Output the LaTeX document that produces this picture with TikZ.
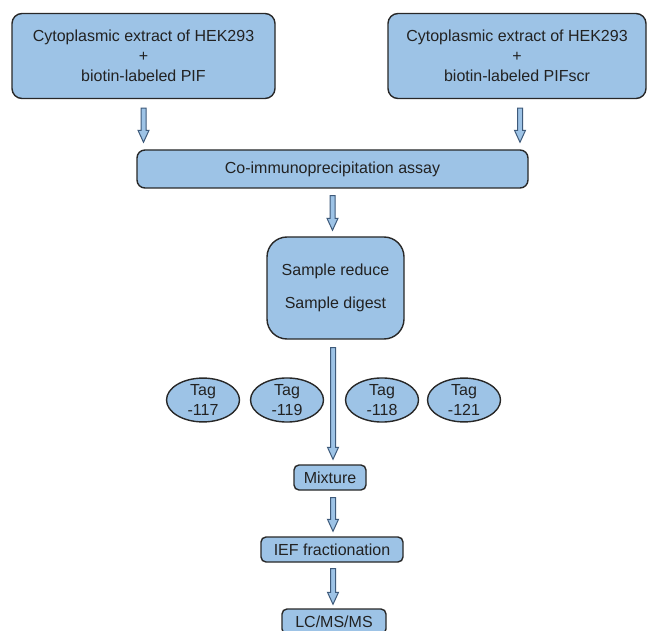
\documentclass[tikz,border=0pt]{standalone}
\usepackage{fontspec}
\setmainfont{Liberation Sans}
\usetikzlibrary{calc,shapes.geometric}
\definecolor{boxfill}{RGB}{157,195,230}
\definecolor{boxline}{RGB}{40,40,40}
\definecolor{arrline}{RGB}{62,90,122}
\definecolor{txt}{RGB}{34,34,34}
\tikzset{
  box/.style={draw=boxline, fill=boxfill, line width=1.4pt, rounded corners=#1,
    text=txt, align=center, inner sep=0pt, font=\fontsize{16}{20}\selectfont},
  box/.default=8pt,
  tag/.style={draw=boxline, fill=boxfill, line width=1.4pt, ellipse,
    minimum width=73pt, minimum height=43pt, inner sep=0pt, text=txt, align=center,
    font=\fontsize{16}{20}\selectfont},
  blockarr/.style={draw=arrline, fill=boxfill, line width=1pt, line join=miter}
}
\newcommand\blkarrow[2]{%
  \path[blockarr] let \p1=(#1), \p2=(#2) in
    (\x1-2.5pt,\y1) -- (\x1-2.5pt,\y2+12pt) -- (\x1-5.5pt,\y2+12pt) -- (\x1,\y2)
    -- (\x1+5.5pt,\y2+12pt) -- (\x1+2.5pt,\y2+12pt) -- (\x1+2.5pt,\y1) -- cycle;}
\begin{document}
\begin{tikzpicture}[x=1pt,y=-1pt]
\clip (0,0) rectangle (648,631);
\fill[white] (0,0) rectangle (648,631);
\node[box=10pt, minimum width=263pt, minimum height=85pt] (b1) at (143.5,56)
  {Cytoplasmic extract of HEK293\\+\\biotin-labeled PIF};
\node[box=10pt, minimum width=258pt, minimum height=85pt] (b2) at (517,56)
  {Cytoplasmic extract of HEK293\\+\\biotin-labeled PIFscr};
\node[box=8pt, minimum width=391pt, minimum height=38pt] (coip) at (332.5,169)
  {Co-immunoprecipitation assay};
\node[box=20pt, minimum width=137pt, minimum height=102pt] (samp) at (335.5,288)
  {Sample reduce\\[13pt]Sample digest};
\node[tag] (t117) at (203,400) {Tag\\-117};
\node[tag] (t119) at (287,400) {Tag\\-119};
\node[tag] (t118) at (382,400) {Tag\\-118};
\node[tag] (t121) at (464,400) {Tag\\-121};
\node[box=5pt, minimum width=72pt, minimum height=25pt] (mix) at (330,477.5) {Mixture};
\node[box=5pt, minimum width=142pt, minimum height=25pt] (ief) at (332,549.5) {IEF fractionation};
\node[box=5pt, minimum width=104pt, minimum height=25pt] (lcms) at (334,621.5) {LC/MS/MS};
\blkarrow{[yshift=-9pt]b1.south}{[yshift=7pt]coip.north -| b1.south}
\blkarrow{[xshift=3pt,yshift=-9pt]b2.south}{[yshift=7pt]coip.north}
\blkarrow{[yshift=-7pt]coip.south}{[yshift=6pt]samp.north}
\blkarrow{[xshift=-2.5pt,yshift=-8pt]samp.south}{[yshift=5pt]mix.north}
\blkarrow{[xshift=3pt,yshift=-7pt]mix.south}{[yshift=5pt]ief.north}
\blkarrow{[xshift=1pt,yshift=-6pt]ief.south}{[yshift=4pt]lcms.north}
\end{tikzpicture}
\end{document}
